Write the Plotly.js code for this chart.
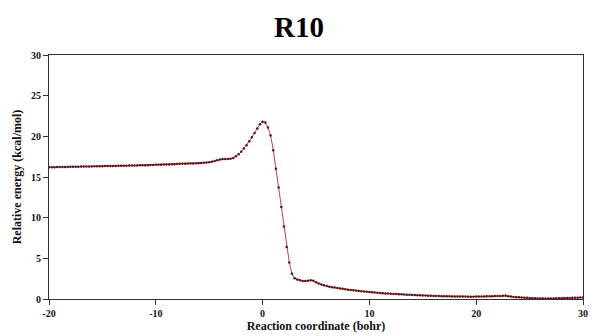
<!DOCTYPE html>
<html>
<head>
<meta charset="utf-8">
<script src="https://cdn.plot.ly/plotly-3.0.1.min.js"></script>
<style>html,body{margin:0;padding:0;background:#fff;}#chart{width:598px;height:336px;}</style>
</head>
<body>
<div id="chart"></div>
<script>
const chartTitle = "R10";
const xTitle = "Reaction coordinate (bohr)";
const yTitle = "Relative energy (kcal/mol)";
const xTicks = [-20, -10, 0, 10, 20, 30];
const yTicks = [0, 5, 10, 15, 20, 25, 30];

const reactionCoord = [
-20,-19.75,-19.5,-19.25,-19,-18.75,-18.5,-18.25,-18,-17.75,-17.5,-17.25,-17,-16.75,-16.5,-16.25,
-16,-15.75,-15.5,-15.25,-15,-14.75,-14.5,-14.25,-14,-13.75,-13.5,-13.25,-13,-12.75,-12.5,-12.25,
-12,-11.75,-11.5,-11.25,-11,-10.75,-10.5,-10.25,-10,-9.75,-9.5,-9.25,-9,-8.75,-8.5,-8.25,
-8,-7.75,-7.5,-7.25,-7,-6.75,-6.5,-6.25,-6,-5.75,-5.5,-5.25,-5,-4.75,-4.5,-4.25,
-4,-3.75,-3.5,-3.25,-3,-2.75,-2.5,-2.25,-2,-1.75,-1.5,-1.25,-1,-0.75,-0.5,-0.25,
0,0.25,0.5,0.75,1,1.25,1.5,1.75,2,2.25,2.5,2.75,3,3.25,3.5,3.75,
4,4.25,4.5,4.75,5,5.25,5.5,5.75,6,6.25,6.5,6.75,7,7.25,7.5,7.75,
8,8.25,8.5,8.75,9,9.25,9.5,9.75,10,10.25,10.5,10.75,11,11.25,11.5,11.75,
12,12.25,12.5,12.75,13,13.25,13.5,13.75,14,14.25,14.5,14.75,15,15.25,15.5,15.75,
16,16.25,16.5,16.75,17,17.25,17.5,17.75,18,18.25,18.5,18.75,19,19.25,19.5,19.75,
20,20.25,20.5,20.75,21,21.25,21.5,21.75,22,22.25,22.5,22.75,23,23.25,23.5,23.75,
24,24.25,24.5,24.75,25,25.25,25.5,25.75,26,26.25,26.5,26.75,27,27.25,27.5,27.75,
28,28.25,28.5,28.75,29,29.25,29.5,29.75,30
];

const relEnergy = [
16.20,16.21,16.21,16.22,16.22,16.23,16.24,16.24,16.25,16.26,16.26,16.27,16.28,16.28,16.29,16.30,
16.30,16.31,16.32,16.32,16.33,16.34,16.34,16.35,16.36,16.36,16.37,16.38,16.38,16.39,16.40,16.41,
16.41,16.42,16.43,16.44,16.45,16.46,16.47,16.48,16.50,16.51,16.52,16.53,16.54,16.55,16.56,16.58,
16.60,16.62,16.63,16.64,16.65,16.66,16.67,16.68,16.70,16.72,16.74,16.77,16.80,16.88,16.97,17.07,
17.15,17.20,17.20,17.20,17.25,17.35,17.55,17.80,18.10,18.50,18.90,19.40,19.90,20.40,20.95,21.50,
21.80,21.70,21.10,20.10,18.30,16.00,13.70,11.30,8.90,6.40,4.50,3.10,2.55,2.40,2.30,2.22,
2.20,2.25,2.30,2.25,2.05,1.90,1.78,1.68,1.60,1.52,1.46,1.40,1.34,1.30,1.25,1.20,
1.15,1.11,1.07,1.03,0.99,0.95,0.92,0.88,0.85,0.82,0.79,0.77,0.74,0.72,0.69,0.67,
0.65,0.63,0.61,0.59,0.57,0.55,0.53,0.52,0.50,0.48,0.47,0.45,0.44,0.42,0.41,0.40,
0.38,0.37,0.36,0.35,0.34,0.34,0.33,0.32,0.31,0.31,0.30,0.30,0.30,0.29,0.29,0.29,
0.30,0.30,0.31,0.32,0.33,0.34,0.35,0.36,0.37,0.38,0.40,0.42,0.35,0.30,0.26,0.23,
0.20,0.18,0.16,0.14,0.12,0.10,0.08,0.06,0.05,0.05,0.05,0.06,0.06,0.07,0.08,0.09,
0.10,0.11,0.12,0.13,0.14,0.15,0.16,0.17,0.18
];

const serif = "Liberation Serif, Times New Roman, serif";

const trace = {
  x: reactionCoord,
  y: relEnergy,
  type: "scatter",
  mode: "lines+markers",
  line: {color: "#c8403f", width: 1},
  marker: {color: "#5a1414", size: 2.5, symbol: "circle"},
  hoverinfo: "x+y"
};

const axisCommon = {
  showgrid: false,
  zeroline: false,
  showline: true,
  linecolor: "#333333",
  linewidth: 1,
  mirror: true,
  ticks: "outside",
  ticklen: 5,
  tickwidth: 1,
  tickcolor: "#333333",
  tickfont: {family: serif, size: 10, color: "#111111", weight: "bold"}
};

const layout = {
  width: 598,
  height: 336,
  margin: {l: 49, r: 15, t: 55, b: 37},
  paper_bgcolor: "#ffffff",
  plot_bgcolor: "#ffffff",
  showlegend: false,
  title: {
    text: "<b>" + chartTitle + "</b>",
    font: {family: serif, size: 29, color: "#000000"},
    x: 0.5, xanchor: "center",
    y: 0.92, yanchor: "middle"
  },
  xaxis: Object.assign({}, axisCommon, {
    range: [-20, 30],
    tickvals: xTicks,
    ticktext: xTicks.map(String),
    title: {text: "<b>" + xTitle + "</b>", font: {family: serif, size: 12, color: "#111111"}, standoff: 0}
  }),
  yaxis: Object.assign({}, axisCommon, {
    range: [0, 30],
    tickvals: yTicks,
    ticktext: yTicks.map(String),
    title: {text: "<b>" + yTitle + "</b>", font: {family: serif, size: 12, color: "#111111"}, standoff: 6}
  })
};

Plotly.newPlot("chart", [trace], layout, {displayModeBar: false, staticPlot: true});
</script>
</body>
</html>
